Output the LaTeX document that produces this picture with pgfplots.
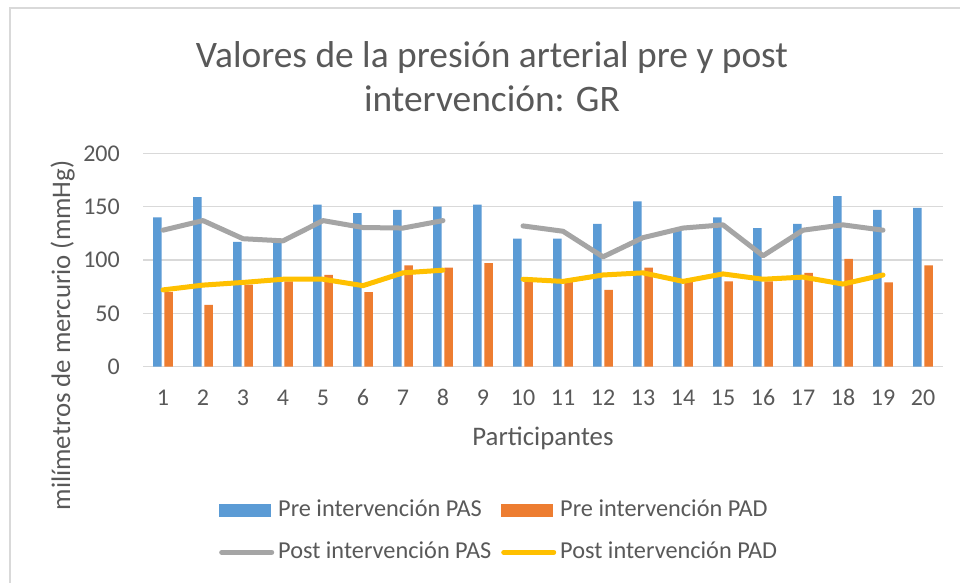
\documentclass[border=0pt]{standalone}
\usepackage{pgfplots}
\pgfplotsset{compat=1.18}
\usepackage{fontspec}
\setmainfont{Carlito}
\definecolor{cblue}{HTML}{5B9BD5}
\definecolor{corange}{HTML}{ED7D31}
\definecolor{cgray}{HTML}{A5A5A5}
\definecolor{cyellow}{HTML}{FFC000}
\definecolor{ctext}{HTML}{595959}
\definecolor{cgrid}{HTML}{D9D9D9}
\begin{document}
\begin{tikzpicture}
\useasboundingbox (0,0) rectangle (960bp,583bp);
\fill[white] (0,0) rectangle (960bp,583bp);
\draw[cgrid, line width=1.5bp] (10bp,575bp) rectangle (990bp,-20bp);
\begin{axis}[
  at={(143bp,216.3bp)}, anchor=south west,
  scale only axis, width=800bp, height=213.3bp,
  xmin=0.5, xmax=20.5, ymin=0, ymax=200,
  xtick={1,...,20}, ytick={0,50,...,200},
  axis line style={draw=none},
  tick style={draw=none},
  ymajorgrids, grid style={cgrid, line width=1.3bp},
  unbounded coords=jump,
  /pgf/number format/assume math mode=true,
  ticklabel style={font=\fontsize{24bp}{28bp}\selectfont, text=ctext, inner sep=0pt},
  xticklabel style={anchor=base, yshift=-38.3bp},
  yticklabel style={anchor=east, xshift=-23bp},
  xlabel={Participantes},
  xlabel style={at={(axis description cs:0.5,0)}, anchor=base, yshift=-78.3bp,
    font=\fontsize{26.8bp}{31bp}\selectfont, text=ctext},
  ylabel={milímetros de mercurio (mmHg)},
  ylabel style={at={(axis description cs:-0.09125,0.1463)}, anchor=base, rotate=0,
    font=\fontsize{26.8bp}{31bp}\selectfont, text=ctext},
  legend columns=2,
  legend style={at={(axis description cs:0.095,-0.6205)}, anchor=north west,
    draw=none, fill=none, inner sep=0pt,
    font=\fontsize{24.3bp}{28bp}\selectfont, text=ctext,
    nodes={inner xsep=0pt, inner ysep=0pt, text height=17bp, text depth=5bp, anchor=west},
    row sep=20bp, column sep=0pt,
    /tikz/every odd column/.append style={column sep=4bp},
    /tikz/every even column/.append style={column sep=10bp}},
]
\addplot[ybar, bar width=8.6bp, bar shift=-5.6bp, fill=cblue, draw=none,
  legend image code/.code={\fill[cblue] (0bp,-6.5bp) rectangle (52bp,6.5bp);}]
  coordinates {(1,140) (2,159) (3,117) (4,118) (5,152) (6,144) (7,147) (8,150) (9,152) (10,120)
               (11,120) (12,134) (13,155) (14,129) (15,140) (16,130) (17,134) (18,160) (19,147) (20,149)};
\addlegendentry{Pre intervención PAS}
\addplot[ybar, bar width=8.6bp, bar shift=5.6bp, fill=corange, draw=none,
  legend image code/.code={\fill[corange] (0bp,-6.5bp) rectangle (52bp,6.5bp);}]
  coordinates {(1,70) (2,58) (3,77) (4,80) (5,86) (6,70) (7,95) (8,93) (9,97) (10,80)
               (11,80) (12,72) (13,93) (14,80) (15,80) (16,80) (17,88) (18,101) (19,79) (20,95)};
\addlegendentry{Pre intervención PAD}
\addplot[cgray, line width=5bp, line join=round, line cap=round, mark=none,
  legend image code/.code={\draw[cgray, line width=5bp, line cap=round] (2.5bp,0) -- (52.5bp,0);}]
  coordinates {(1,128) (2,137) (3,120) (4,118) (5,137) (6,130.5) (7,130) (8,137) (9,nan) (10,132)
               (11,127) (12,103) (13,121) (14,130) (15,133) (16,104) (17,128) (18,133) (19,128)};
\addlegendentry{Post intervención PAS}
\addplot[cyellow, line width=5bp, line join=round, line cap=round, mark=none,
  legend image code/.code={\draw[cyellow, line width=5bp, line cap=round] (2.5bp,0) -- (52.5bp,0);}]
  coordinates {(1,72) (2,76.5) (3,79) (4,82) (5,82) (6,76) (7,88) (8,90.5) (9,nan) (10,82)
               (11,80) (12,86) (13,88) (14,80) (15,87) (16,82) (17,84) (18,77.5) (19,86)};
\addlegendentry{Post intervención PAD}
\end{axis}
\node[anchor=base, font=\fontsize{37.4bp}{44bp}\selectfont, text=ctext] at (492bp,515bp) {Valores de la presión arterial pre y post};
\node[anchor=base, font=\fontsize{37.4bp}{44bp}\selectfont, text=ctext] at (492bp,471bp) {intervención: GR};
\end{tikzpicture}
\end{document}
